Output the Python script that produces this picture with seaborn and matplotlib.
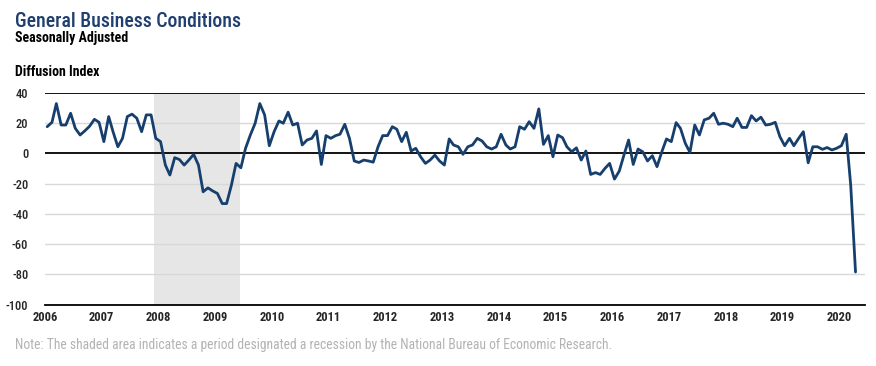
import pandas as pd
import matplotlib.pyplot as plt
from matplotlib import font_manager
import seaborn as sns

# monthly diffusion index, Jan 2006 - Apr 2020
index_values = [
    17.7, 20.6, 33.0, 18.8, 18.8, 26.6, 16.6, 12.2, 15.0, 18.0, 22.6, 20.6,   # 2006
    7.8, 24.4, 14.4, 4.4, 10.0, 24.4, 26.0, 23.3, 14.4, 25.5, 25.5, 10.0,     # 2007
    7.8, -7.7, -14.3, -2.8, -4.0, -7.7, -4.4, -0.6, -7.7, -25.4, -22.8, -24.8,  # 2008
    -26.5, -33.2, -33.2, -21.0, -6.6, -9.5, 3.4, 12.2, 20.0, 33.0, 25.5, 5.1,  # 2009
    14.4, 21.5, 20.0, 27.3, 18.8, 20.0, 5.6, 8.9, 10.0, 14.9, -7.3, 11.8,     # 2010
    10.0, 11.8, 12.7, 19.3, 10.0, -5.0, -6.0, -4.4, -5.0, -5.8, 4.4, 11.8,    # 2011
    11.8, 17.7, 16.0, 7.8, 14.0, 1.6, 3.4, -2.2, -6.6, -4.4, -1.1, -5.0,      # 2012
    -7.7, 9.6, 5.6, 4.4, -0.6, 4.4, 5.6, 10.0, 8.2, 4.4, 2.9, 4.4,           # 2013
    12.7, 5.6, 2.9, 4.4, 17.7, 16.0, 21.0, 16.6, 29.5, 6.0, 11.8, -2.2,      # 2014
    12.2, 10.4, 4.4, 1.1, 3.7, -4.4, 1.6, -13.9, -12.7, -13.9, -9.9, -6.6,   # 2015
    -17.0, -11.7, -1.5, 8.9, -7.3, 2.9, 1.1, -5.0, -1.5, -8.8, 1.1, 9.6,     # 2016
    7.8, 20.4, 16.6, 6.7, 0.7, 18.8, 12.2, 22.2, 23.3, 26.6, 19.3, 20.0,     # 2017
    19.3, 17.7, 23.3, 17.2, 17.2, 25.0, 21.5, 24.0, 18.8, 19.3, 20.6, 11.1,  # 2018
    5.1, 10.0, 5.1, 10.0, 14.4, -6.2, 4.4, 4.4, 2.7, 3.9, 2.3, 3.4,          # 2019
    5.1, 12.7, -21.0, -78.5,                                                 # 2020
]
first_month = '2006-01-01'
year_labels = list(range(2006, 2021))
y_ticks = [-100, -80, -60, -40, -20, 0, 20, 40]
recession = ('2007-12-01', '2009-06-10')

df = pd.DataFrame({
    'fecha': pd.date_range(first_month, periods=len(index_values), freq='MS') + pd.Timedelta(days=14),
    'indice': index_values,
})

sns.set_style('white')
disponibles = {f.name for f in font_manager.fontManager.ttflist}
preferidas = ['Roboto Condensed', 'Fira Sans Condensed', 'Archivo Narrow', 'PT Sans Narrow',
              'Asap Condensed', 'Liberation Sans Narrow', 'DejaVu Sans']
fuente = [f for f in preferidas if f in disponibles][0]
plt.rcParams['font.family'] = [fuente, 'DejaVu Sans']

fig = plt.figure(figsize=(8.76, 3.66), dpi=100)
ax = fig.add_axes([45 / 876, 1 - 304.5 / 366, 820 / 876, (304.5 - 93) / 366])

ax.axvspan(pd.Timestamp(recession[0]), pd.Timestamp(recession[1]), color='#e6e6e6', zorder=0, lw=0)
for t in y_ticks[1:]:
    dark = t in (0, 40)
    ax.axhline(t, color='black' if dark else '#d8d8d8', lw=1.3 if dark else 1.0, zorder=1)

sns.lineplot(data=df, x='fecha', y='indice', ax=ax, color='#173f6d', linewidth=2.0, zorder=3)

ax.set_ylim(-100, 40)
ax.set_xlim(pd.Timestamp('2006-01-01'), pd.Timestamp('2020-06-15'))
ax.set_yticks(y_ticks)
ax.set_yticklabels([str(t) for t in y_ticks], fontsize=9, fontweight='medium')
ax.set_xticks([pd.Timestamp(f'{y}-01-01') for y in year_labels])
ax.set_xticklabels([str(y) for y in year_labels], fontsize=9, fontweight='bold')
ax.tick_params(axis='y', length=0, pad=12)
ax.tick_params(axis='x', direction='in', length=4, width=0.8, color='#555555', pad=5)
ax.set_xlabel('')
ax.set_ylabel('')
for s in ['top', 'left', 'right']:
    ax.spines[s].set_visible(False)
ax.spines['bottom'].set_color('black')
ax.spines['bottom'].set_linewidth(1.3)

fig.text(15 / 876, 1 - 27 / 366, 'General Business Conditions', fontsize=14.2,
         color='#1f3f6e', va='baseline', ha='left', fontweight='medium')
fig.text(15 / 876, 1 - 42 / 366, 'Seasonally Adjusted', fontsize=10,
         fontweight='bold', color='black', va='baseline', ha='left')
fig.text(15 / 876, 1 - 75.5 / 366, 'Diffusion Index', fontsize=10,
         fontweight='bold', color='black', va='baseline', ha='left')
fig.text(15 / 876, 1 - 349 / 366,
         'Note: The shaded area indicates a period designated a recession by the National Bureau of Economic Research.',
         fontsize=9.8, color='#b3b3b3', va='baseline', ha='left')

fig.savefig('out.png', dpi=100)
